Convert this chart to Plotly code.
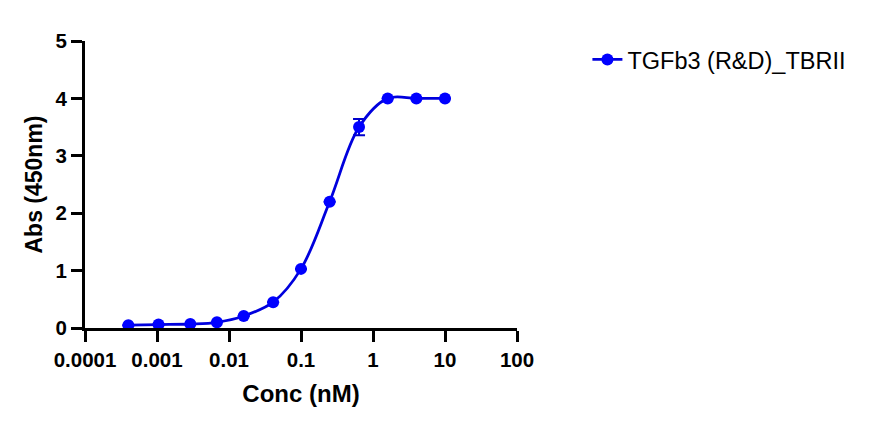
import plotly.graph_objects as go

# concentration series (nM) and absorbance
conc = [0.0004, 0.00105, 0.0029, 0.0068, 0.016, 0.041, 0.1, 0.25, 0.64, 1.6, 4.0, 10.0]
abs450 = [0.05, 0.06, 0.07, 0.10, 0.21, 0.45, 1.03, 2.20, 3.50, 4.00, 4.00, 4.00]
err = [0, 0, 0, 0, 0, 0, 0, 0, 0.14, 0, 0, 0]

x_ticks = [0.0001, 0.001, 0.01, 0.1, 1, 10, 100]
x_ticktext = ["0.0001", "0.001", "0.01", "0.1", "1", "10", "100"]
y_ticks = [0, 1, 2, 3, 4, 5]

font_name = "Liberation Sans, Arial, sans-serif"

fig = go.Figure()
fig.add_trace(go.Scatter(
    x=conc, y=abs450,
    name="TGFb3 (R&D)_TBRII",
    mode="lines+markers",
    line=dict(color="#0000dd", width=2.8, shape="spline", smoothing=1),
    marker=dict(color="#0000ff", size=12),
    error_y=dict(type="data", array=err, visible=True,
                 color="#0000cc", thickness=2, width=6),
))

fig.update_layout(
    width=873, height=428,
    margin=dict(l=77, r=364, t=33, b=108),
    plot_bgcolor="white", paper_bgcolor="white",
    font=dict(family=font_name, color="black"),
    showlegend=True,
    legend=dict(x=1.163, y=0.935, xanchor="left", yanchor="middle",
                font=dict(size=23.5, family=font_name), bgcolor="rgba(0,0,0,0)"),
    xaxis=dict(
        type="log", range=[-4, 2],
        tickvals=x_ticks, ticktext=x_ticktext,
        showline=True, linecolor="black", linewidth=3,
        ticks="outside", ticklen=11, tickwidth=3, tickcolor="black",
        showgrid=False, zeroline=False,
        tickfont=dict(size=20.5, family=font_name, weight="bold"),
        title=dict(text="<b>Conc (nM)</b>", font=dict(size=24), standoff=16),
    ),
    yaxis=dict(
        range=[0, 5], tickvals=y_ticks,
        showline=True, linecolor="black", linewidth=3,
        ticks="outside", ticklen=11, tickwidth=3, tickcolor="black",
        showgrid=False, zeroline=False,
        tickfont=dict(size=20.5, family=font_name, weight="bold"),
        title=dict(text="<b>Abs (450nm)</b>", font=dict(size=23), standoff=7),
    ),
)

fig.write_html("out.html")
